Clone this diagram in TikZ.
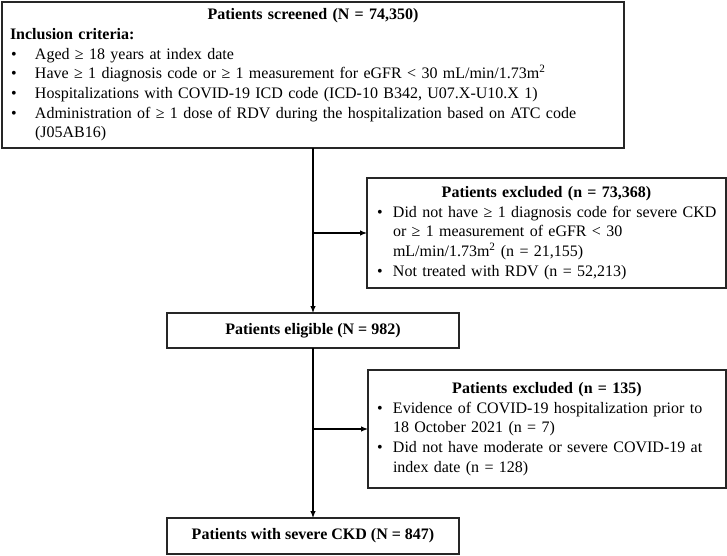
\documentclass[tikz,border=0pt]{standalone}
\usepackage{fontspec}
\setmainfont{Liberation Serif}
\usetikzlibrary{arrows.meta}
\newdimen\bo
\newdimen\bg
\newcommand\bitem{\par\hangindent=\dimexpr\bo+\bg\relax\hangafter=1\noindent\hbox to \dimexpr\bo+\bg\relax{\hskip\bo\textbullet\hfil}}
\newcommand\fs{\fontsize{16}{19.7}\selectfont}
\tikzset{
  box/.style={draw=black!85, line width=1.3pt, inner ysep=0pt, outer sep=0pt, font=\fs},
  arr/.style={-{Latex[length=7pt,width=5.5pt]}, line width=1.1pt, draw=black}
}
\begin{document}
\begin{tikzpicture}[x=1pt,y=-1pt]
\useasboundingbox (0,0) rectangle (727,555);
\node[box, minimum width=622pt, minimum height=146pt, text width=606pt, inner xsep=8pt] (scr) at (313,75)
 {\parindent=0pt\bo=1pt\bg=24pt\centering\bfseries Patients screened (N = 74,350)\par
  \raggedright Inclusion criteria:\par\mdseries
  \bitem Aged ≥ 18 years at index date
  \bitem Have ≥ 1 diagnosis code or ≥ 1 measurement for eGFR < 30 mL/min/1.73m\textsuperscript{2}
  \bitem Hospitalizations with COVID-19 ICD code (ICD-10 B342, U07.X-U10.X 1)
  \bitem Administration of ≥ 1 dose of RDV during the hospitalization based on ATC code\newline (J05AB16)\par};
\node[box, minimum width=359pt, minimum height=110pt, text width=351pt, inner xsep=4pt] (ex1) at (546.5,233)
 {\parindent=0pt\hfuzz=30pt\bo=6pt\bg=16pt\centering\bfseries Patients excluded (n = 73,368)\par
  \raggedright\mdseries
  \bitem \mbox{Did not have ≥ 1 diagnosis code for severe CKD}\newline or ≥ 1 measurement of eGFR < 30\newline mL/min/1.73m\textsuperscript{2} (n = 21,155)
  \bitem Not treated with RDV (n = 52,213)\par};
\node[box, minimum width=292pt, minimum height=35pt, inner xsep=0pt, font=\fs\bfseries] (elig) at (313,330.5) {Patients eligible (N = 982)};
\node[box, minimum width=358pt, minimum height=118pt, text width=350pt, inner xsep=4pt] (ex2) at (547,429)
 {\parindent=0pt\hfuzz=30pt\bo=5pt\bg=16pt\centering\bfseries Patients excluded (n = 135)\par
  \raggedright\mdseries
  \bitem \mbox{Evidence of COVID-19 hospitalization prior to}\newline 18 October 2021 (n = 7)
  \bitem \mbox{Did not have moderate or severe COVID-19 at}\newline index date (n = 128)\par};
\node[box, minimum width=292pt, minimum height=36pt, inner xsep=0pt, font=\fs\bfseries] (fin) at (313,536) {Patients with severe CKD (N = 847)};
\draw[arr] (scr.south) -- (elig.north);
\draw[arr] (scr.south |- ex1.west) -- (ex1.west);
\draw[arr] (elig.south) -- (fin.north);
\draw[arr] (elig.south |- ex2.west) -- (ex2.west);
\end{tikzpicture}
\end{document}
